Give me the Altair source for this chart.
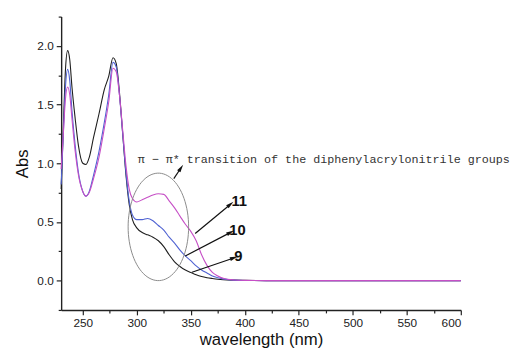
import math
import altair as alt
import pandas as pd

# ---- data ----
wavelength = [230, 232, 234, 236, 238, 240, 243, 246, 250, 253, 256, 260, 265, 270, 274, 278,
              281, 284, 287, 290, 293, 296, 300, 305, 310, 315, 320, 325, 330, 335, 340, 345,
              350, 355, 360, 365, 370, 375, 380, 390, 400, 420, 450, 500, 550, 600]
abs_9 = [0.78, 1.30, 1.80, 1.96, 1.88, 1.65, 1.38, 1.15, 1.00, 0.99, 1.05, 1.22, 1.42, 1.63, 1.74, 1.90,
         1.85, 1.60, 1.25, 0.90, 0.65, 0.52, 0.45, 0.41, 0.39, 0.37, 0.34, 0.29, 0.22, 0.16, 0.12, 0.09,
         0.07, 0.05, 0.035, 0.025, 0.018, 0.012, 0.008, 0.004, 0.002, 0.0, 0.0, 0.0, 0.0, 0.0]
abs_10 = [0.82, 1.25, 1.65, 1.80, 1.70, 1.45, 1.15, 0.92, 0.76, 0.72, 0.76, 0.90, 1.10, 1.35, 1.58, 1.86,
          1.82, 1.58, 1.25, 0.92, 0.68, 0.56, 0.52, 0.52, 0.53, 0.51, 0.47, 0.43, 0.37, 0.32, 0.26, 0.21,
          0.17, 0.125, 0.09, 0.065, 0.04, 0.025, 0.015, 0.004, 0.001, 0.0, 0.0, 0.0, 0.0, 0.0]
abs_11 = [0.95, 1.25, 1.55, 1.65, 1.58, 1.38, 1.10, 0.90, 0.76, 0.72, 0.75, 0.87, 1.05, 1.30, 1.52, 1.81,
          1.78, 1.58, 1.28, 0.98, 0.78, 0.70, 0.67, 0.69, 0.71, 0.73, 0.74, 0.735, 0.68, 0.62, 0.55, 0.48,
          0.42, 0.34, 0.22, 0.13, 0.07, 0.04, 0.02, 0.006, 0.002, 0.0, 0.0, 0.0, 0.0, 0.0]
series_names = ["9", "10", "11"]
series_colors = ["#1e1e1e", "#4f62d2", "#c64fc6"]

x_major = [250, 300, 350, 400, 450, 500, 550, 600]
x_minor = [275, 325, 375, 425, 475, 525, 575]
y_major = [0.0, 0.5, 1.0, 1.5, 2.0]
y_minor = [-0.25, 0.25, 0.75, 1.25, 1.75, 2.25]

# annotations (data coordinates)
ellipse_center = (320, 0.458)
ellipse_radius = (28, 0.458)
arrow_names = ["top", "11", "10", "9"]
arrow_x1 = [334.3, 354.1, 344.9, 351.1]
arrow_y1 = [0.869, 0.401, 0.210, 0.071]
arrow_x2 = [340.4, 386.0, 386.0, 389.1]
arrow_y2 = [0.953, 0.645, 0.407, 0.191]
label_text = ["11", "10", "9"]
label_x = [387.6, 385.7, 390.3]
label_y = [0.678, 0.429, 0.21]
note_text = "π − π* transition of the diphenylacrylonitrile groups"
note_x = 300.8
note_y = 1.04

X_DOMAIN = [230, 600]
Y_DOMAIN = [-0.25, 2.25]
W, H = 406, 298

# ---- tables ----
rows = []
for name, vals in zip(series_names, [abs_9, abs_10, abs_11]):
    for w, v in zip(wavelength, vals):
        rows.append({"nm": w, "abs": v, "series": name})
curves = pd.DataFrame(rows)

ell = []
for i, t in enumerate(range(0, 361, 4)):
    a = math.radians(t)
    ell.append({"nm": ellipse_center[0] + ellipse_radius[0] * math.cos(a),
                "abs": ellipse_center[1] + ellipse_radius[1] * math.sin(a), "i": i})
ellipse = pd.DataFrame(ell)

px_x = W / (X_DOMAIN[1] - X_DOMAIN[0])
px_y = H / (Y_DOMAIN[1] - Y_DOMAIN[0])
arrows = pd.DataFrame({"name": arrow_names, "x1": arrow_x1, "y1": arrow_y1,
                       "x2": arrow_x2, "y2": arrow_y2})
arrows["angle"] = [
    math.degrees(math.atan2((b - a) * px_x, (d - c) * px_y)) % 360
    for a, b, c, d in zip(arrow_x1, arrow_x2, arrow_y1, arrow_y2)
]
labels = pd.DataFrame({"t": label_text, "nm": label_x, "abs": label_y})
note = pd.DataFrame({"t": [note_text], "nm": [note_x], "abs": [note_y]})

xs = alt.Scale(domain=X_DOMAIN, nice=False, zero=False)
ys = alt.Scale(domain=Y_DOMAIN, nice=False, zero=False)

x_axis = alt.Axis(orient="bottom", values=x_major, format="d", labelOverlap=False, tickSize=5,
                  title="wavelength (nm)", grid=False, labelPadding=3, titlePadding=3)
y_axis = alt.Axis(orient="left", values=y_major, format=".1f", labelOverlap=False, tickSize=5,
                  title="Abs", grid=False, labelPadding=3, titlePadding=6)
x_axis_minor = alt.Axis(orient="bottom", values=x_minor, labels=False, tickSize=3, domain=False,
                        title=None, grid=False)
y_axis_minor = alt.Axis(orient="left", values=y_minor, labels=False, tickSize=3, domain=False,
                        title=None, grid=False)

lines = alt.Chart(curves).mark_line(strokeWidth=1.1, interpolate="monotone").encode(
    x=alt.X("nm:Q", scale=xs, axis=x_axis),
    y=alt.Y("abs:Q", scale=ys, axis=y_axis),
    color=alt.Color("series:N", scale=alt.Scale(domain=series_names, range=series_colors), legend=None),
    detail="series:N",
)

minor = alt.Chart(curves).mark_point(opacity=0).encode(
    x=alt.X("nm:Q", scale=xs, axis=x_axis_minor),
    y=alt.Y("abs:Q", scale=ys, axis=y_axis_minor),
)

ell_line = alt.Chart(ellipse).mark_line(color="#8a8a8a", strokeWidth=1).encode(
    x=alt.X("nm:Q", scale=xs, axis=None), y=alt.Y("abs:Q", scale=ys, axis=None), order="i:Q",
)

shafts = alt.Chart(arrows).mark_rule(color="#111", strokeWidth=1.2).encode(
    x=alt.X("x1:Q", scale=xs, axis=None), y=alt.Y("y1:Q", scale=ys, axis=None),
    x2="x2:Q", y2="y2:Q",
)
heads = alt.Chart(arrows).mark_point(shape="M0,-1L0.4,0.6L-0.4,0.6Z", filled=True, color="#111",
                                     size=100, opacity=1).encode(
    x=alt.X("x2:Q", scale=xs, axis=None), y=alt.Y("y2:Q", scale=ys, axis=None),
    angle=alt.Angle("angle:Q", scale=None),
)

lab = alt.Chart(labels).mark_text(align="left", baseline="middle", font="Liberation Sans",
                                  fontSize=15, fontWeight="bold", color="#111").encode(
    x=alt.X("nm:Q", scale=xs, axis=None), y=alt.Y("abs:Q", scale=ys, axis=None), text="t:N",
)
note_mark = alt.Chart(note).mark_text(align="left", baseline="middle", font="Liberation Mono",
                                      fontSize=11.9, color="#333").encode(
    x=alt.X("nm:Q", scale=xs, axis=None), y=alt.Y("abs:Q", scale=ys, axis=None), text="t:N",
)

chart = alt.layer(lines, minor, ell_line, shafts, heads, lab, note_mark).resolve_axis(
    x="independent", y="independent"
).properties(
    width=W, height=H,
    autosize=alt.AutoSizeParams(type="none"),
    padding={"left": 54, "top": 6, "right": 52, "bottom": 42},
).configure_view(stroke=None).configure_axis(
    domainColor="#222", domainWidth=1.4, tickColor="#222", tickWidth=1.2,
    labelFont="Liberation Sans", labelFontSize=12, labelColor="#222",
    titleFont="Liberation Sans", titleFontSize=17, titleFontWeight="normal", titleColor="#111",
)

chart.save("out.html", embed_options={"renderer": "svg", "actions": False})
